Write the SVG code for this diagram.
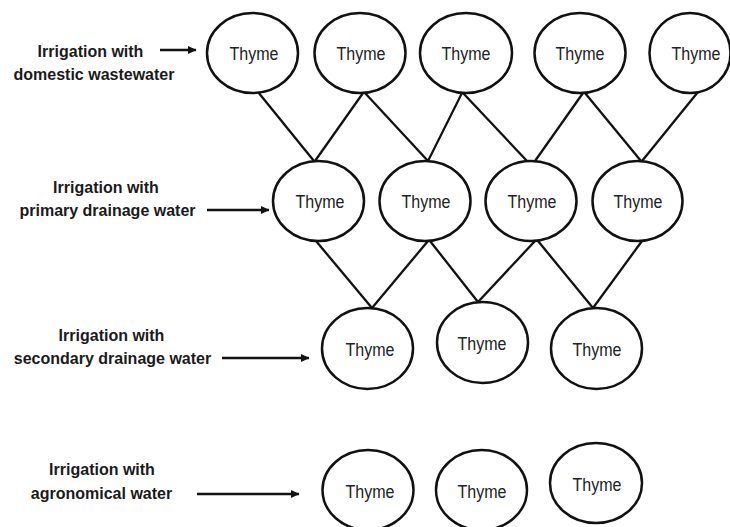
<svg xmlns="http://www.w3.org/2000/svg" width="730" height="527" viewBox="0 0 730 527">
<style>
.node ellipse{fill:#fff;stroke:#111;stroke-width:2.5}
.node text{font-family:"Liberation Sans",Arial,sans-serif;font-size:17.5px;fill:#222;text-anchor:middle}
.lbl text{font-family:"Liberation Sans",Arial,sans-serif;font-size:16px;font-weight:bold;fill:#1a1a1a;text-anchor:middle}
.conn line{stroke:#111;stroke-width:2.3;fill:none}
.arr line{stroke:#111;stroke-width:2.6;marker-end:url(#ah)}
</style>
<defs>
<marker id="ah" markerWidth="4" markerHeight="4" refX="3.2" refY="2" orient="auto" markerUnits="strokeWidth">
<path d="M0,0.4 L3.4,2 L0,3.6 Z" fill="#111"/>
</marker>
</defs>
<rect width="730" height="527" fill="#fff"/>
<g id="connectors" class="conn">
<line x1="258" y1="92" x2="314" y2="161"/>
<line x1="363" y1="93" x2="315" y2="161"/>
<line x1="365" y1="93" x2="428" y2="161"/>
<line x1="462" y1="93" x2="428" y2="161"/>
<line x1="463" y1="93" x2="527" y2="161"/>
<line x1="583" y1="93" x2="535" y2="161"/>
<line x1="585" y1="93" x2="641" y2="161"/>
<line x1="698" y1="92" x2="642" y2="161"/>
<line x1="316" y1="241" x2="372" y2="308"/>
<line x1="428" y1="241" x2="372" y2="308"/>
<line x1="430" y1="241" x2="478" y2="302"/>
<line x1="535" y1="241" x2="478" y2="302"/>
<line x1="538" y1="241" x2="593" y2="308"/>
<line x1="642" y1="241" x2="593" y2="308"/>
</g>
<g id="labels" class="lbl">
<g id="label-domestic"><text x="90.5" y="57">Irrigation with</text><text x="94" y="80">domestic wastewater</text></g>
<g id="label-primary"><text x="106" y="193">Irrigation with</text><text x="107.5" y="216">primary drainage water</text></g>
<g id="label-secondary"><text x="111.5" y="341">Irrigation with</text><text x="112.5" y="364">secondary drainage water</text></g>
<g id="label-agronomical"><text x="102" y="475">Irrigation with</text><text x="101.5" y="499">agronomical water</text></g>
</g>
<g id="arrows" class="arr">
<line x1="160" y1="50" x2="196" y2="50"/>
<line x1="207" y1="210" x2="269" y2="210"/>
<line x1="222" y1="358" x2="309" y2="358"/>
<line x1="197" y1="494" x2="299" y2="494"/>
</g>
<g id="n1-1" class="node"><ellipse cx="252.5" cy="53" rx="45.5" ry="40"/><text x="254" y="59.5" textLength="49" lengthAdjust="spacingAndGlyphs">Thyme</text></g>
<g id="n1-2" class="node"><ellipse cx="360" cy="53" rx="45.5" ry="40"/><text x="361" y="59.5" textLength="49" lengthAdjust="spacingAndGlyphs">Thyme</text></g>
<g id="n1-3" class="node"><ellipse cx="466" cy="53" rx="46" ry="40"/><text x="466" y="59.5" textLength="49" lengthAdjust="spacingAndGlyphs">Thyme</text></g>
<g id="n1-4" class="node"><ellipse cx="580" cy="53" rx="45.5" ry="40"/><text x="580" y="59.5" textLength="49" lengthAdjust="spacingAndGlyphs">Thyme</text></g>
<g id="n1-5" class="node"><ellipse cx="690" cy="53" rx="40.5" ry="40"/><text x="696" y="59.5" textLength="49" lengthAdjust="spacingAndGlyphs">Thyme</text></g>
<g id="n2-1" class="node"><ellipse cx="318.5" cy="201" rx="45.5" ry="40"/><text x="320" y="207.5" textLength="49" lengthAdjust="spacingAndGlyphs">Thyme</text></g>
<g id="n2-2" class="node"><ellipse cx="425" cy="201" rx="45.5" ry="40"/><text x="426" y="207.5" textLength="49" lengthAdjust="spacingAndGlyphs">Thyme</text></g>
<g id="n2-3" class="node"><ellipse cx="531" cy="201" rx="45.5" ry="40"/><text x="532" y="207.5" textLength="49" lengthAdjust="spacingAndGlyphs">Thyme</text></g>
<g id="n2-4" class="node"><ellipse cx="637.5" cy="201" rx="45" ry="40"/><text x="638" y="207.5" textLength="49" lengthAdjust="spacingAndGlyphs">Thyme</text></g>
<g id="n3-1" class="node"><ellipse cx="367.5" cy="348.5" rx="45.5" ry="40.5"/><text x="370" y="355.5" textLength="49" lengthAdjust="spacingAndGlyphs">Thyme</text></g>
<g id="n3-2" class="node"><ellipse cx="482.5" cy="342.5" rx="45.5" ry="40.5"/><text x="482" y="349.5" textLength="49" lengthAdjust="spacingAndGlyphs">Thyme</text></g>
<g id="n3-3" class="node"><ellipse cx="596.5" cy="348.5" rx="45.5" ry="40.5"/><text x="597" y="355.5" textLength="49" lengthAdjust="spacingAndGlyphs">Thyme</text></g>
<g id="n4-1" class="node"><ellipse cx="368" cy="490" rx="45.5" ry="40"/><text x="370" y="497.5" textLength="49" lengthAdjust="spacingAndGlyphs">Thyme</text></g>
<g id="n4-2" class="node"><ellipse cx="481.5" cy="490" rx="45.5" ry="40"/><text x="482" y="497.5" textLength="49" lengthAdjust="spacingAndGlyphs">Thyme</text></g>
<g id="n4-3" class="node"><ellipse cx="596" cy="483" rx="46" ry="40"/><text x="597" y="490.5" textLength="49" lengthAdjust="spacingAndGlyphs">Thyme</text></g>
</svg>
